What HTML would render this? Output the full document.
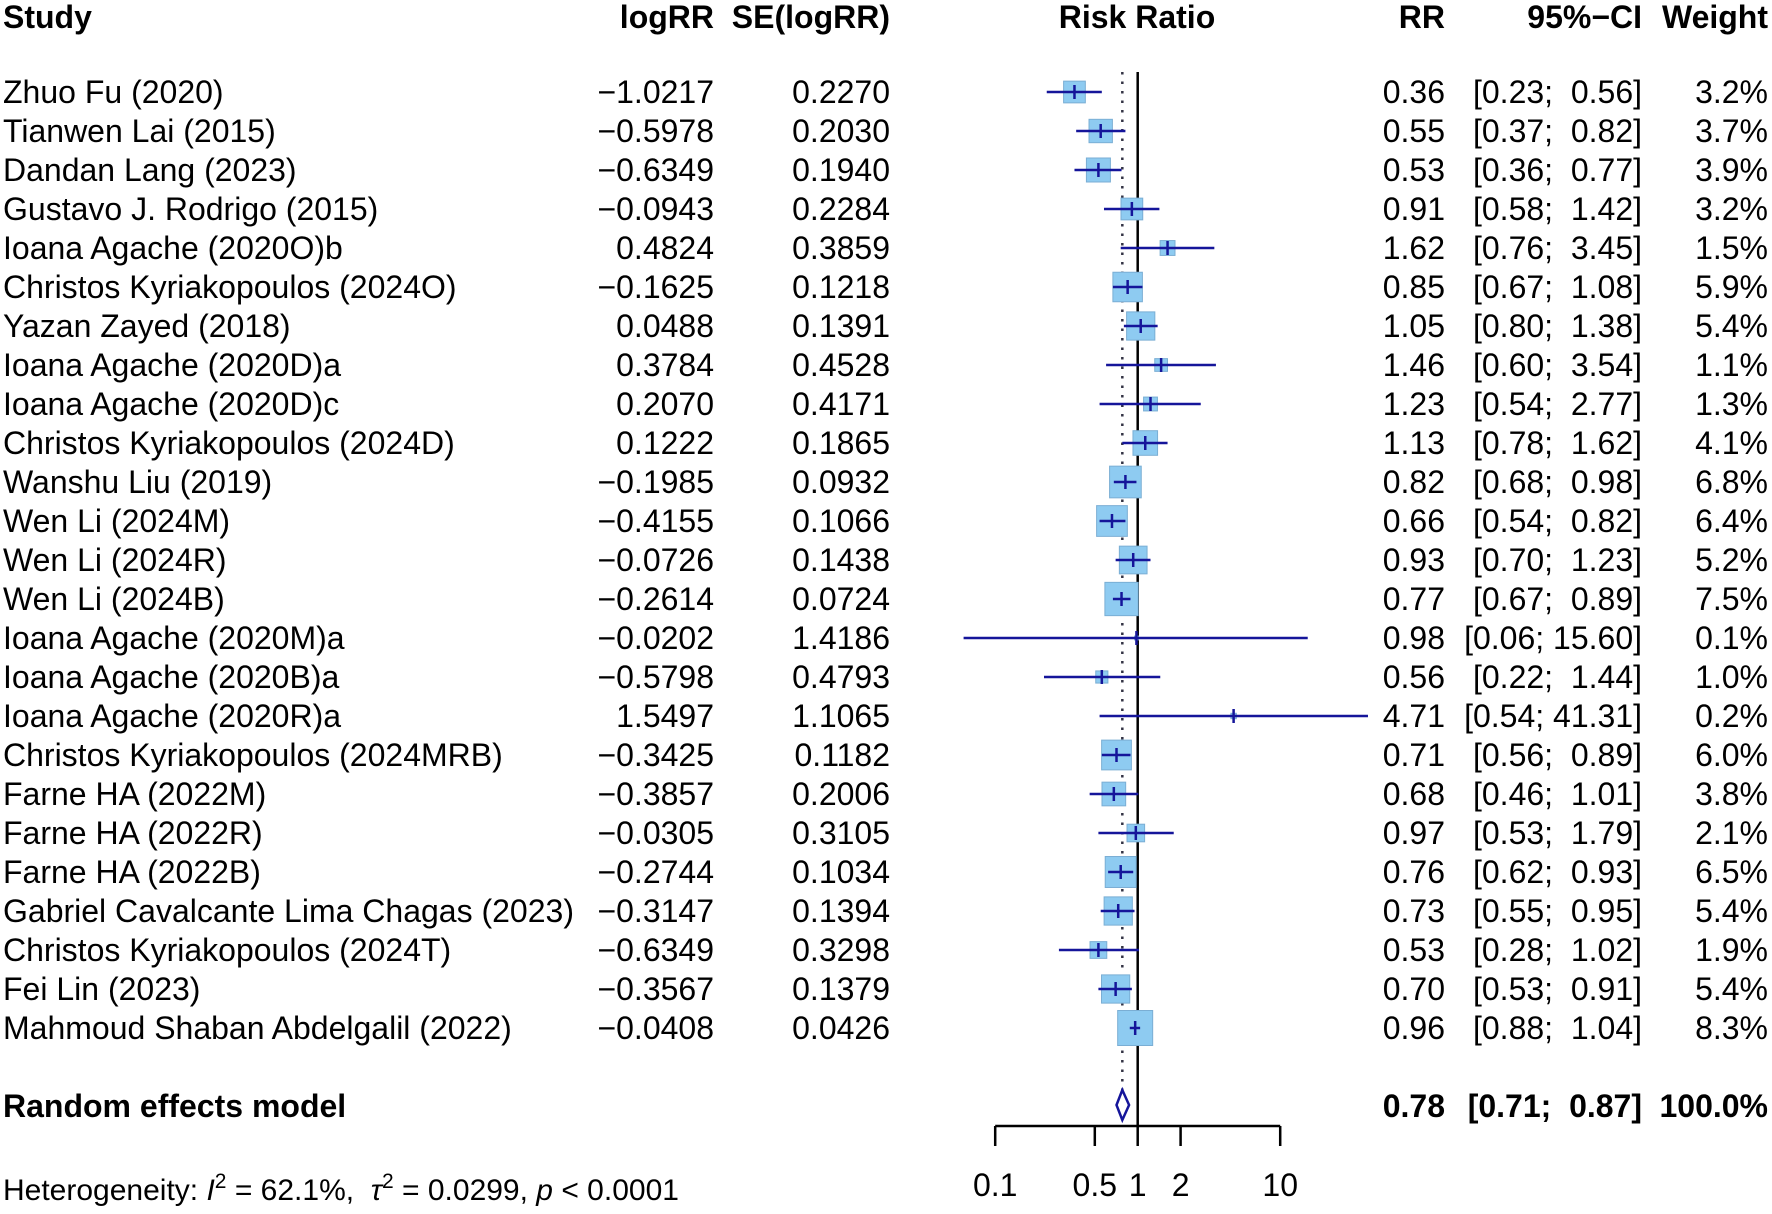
<!DOCTYPE html>
<html><head><meta charset="utf-8"><style>
body{margin:0;background:#fff}
svg text{font-family:"Liberation Sans",Arial,sans-serif;font-size:32px;fill:#000;white-space:pre}
</style></head><body>
<svg id="plot" width="1772" height="1209" viewBox="0 0 1772 1209" xmlns="http://www.w3.org/2000/svg">
<g id="hdr" font-weight="bold">
<text x="3" y="28" font-weight="bold">Study</text>
<text x="714" y="28" text-anchor="end" font-weight="bold">logRR</text>
<text x="890" y="28" text-anchor="end" font-weight="bold">SE(logRR)</text>
<text x="1137" y="28" text-anchor="middle" font-weight="bold">Risk Ratio</text>
<text x="1445" y="28" text-anchor="end" font-weight="bold">RR</text>
<text x="1642" y="28" text-anchor="end" font-weight="bold">95%−CI</text>
<text x="1768" y="28" text-anchor="end" font-weight="bold">Weight</text>
</g>
<g id="marks"></g>
<g id="rows"></g>
<g id="axis"></g>
<text x="3" y="1117" font-weight="bold">Random effects model</text>
<text x="1445" y="1117" text-anchor="end" font-weight="bold">0.78</text>
<text x="1642" y="1117" text-anchor="end" font-weight="bold">[0.71;  0.87]</text>
<text x="1768" y="1117" text-anchor="end" font-weight="bold">100.0%</text>
<text x="3" y="1200" style="font-size:30px">Heterogeneity: <tspan font-style="italic">I</tspan><tspan dy="-12" font-size="21">2</tspan><tspan dy="12"> = 62.1%,  </tspan><tspan font-style="italic">τ</tspan><tspan dy="-12" font-size="21">2</tspan><tspan dy="12"> = 0.0299, </tspan><tspan font-style="italic">p</tspan> &lt; 0.0001</text>
</svg>
<script>
const studies=["Zhuo Fu (2020)","Tianwen Lai (2015)","Dandan Lang (2023)","Gustavo J. Rodrigo (2015)","Ioana Agache (2020O)b","Christos Kyriakopoulos (2024O)","Yazan Zayed (2018)","Ioana Agache (2020D)a","Ioana Agache (2020D)c","Christos Kyriakopoulos (2024D)","Wanshu Liu (2019)","Wen Li (2024M)","Wen Li (2024R)","Wen Li (2024B)","Ioana Agache (2020M)a","Ioana Agache (2020B)a","Ioana Agache (2020R)a","Christos Kyriakopoulos (2024MRB)","Farne HA (2022M)","Farne HA (2022R)","Farne HA (2022B)","Gabriel Cavalcante Lima Chagas (2023)","Christos Kyriakopoulos (2024T)","Fei Lin (2023)","Mahmoud Shaban Abdelgalil (2022)"];
const logRR=["−1.0217","−0.5978","−0.6349","−0.0943","0.4824","−0.1625","0.0488","0.3784","0.2070","0.1222","−0.1985","−0.4155","−0.0726","−0.2614","−0.0202","−0.5798","1.5497","−0.3425","−0.3857","−0.0305","−0.2744","−0.3147","−0.6349","−0.3567","−0.0408"];
const seLogRR=["0.2270","0.2030","0.1940","0.2284","0.3859","0.1218","0.1391","0.4528","0.4171","0.1865","0.0932","0.1066","0.1438","0.0724","1.4186","0.4793","1.1065","0.1182","0.2006","0.3105","0.1034","0.1394","0.3298","0.1379","0.0426"];
const rr=[0.36,0.55,0.53,0.91,1.62,0.85,1.05,1.46,1.23,1.13,0.82,0.66,0.93,0.77,0.98,0.56,4.71,0.71,0.68,0.97,0.76,0.73,0.53,0.70,0.96];
const ciLow=[0.23,0.37,0.36,0.58,0.76,0.67,0.80,0.60,0.54,0.78,0.68,0.54,0.70,0.67,0.06,0.22,0.54,0.56,0.46,0.53,0.62,0.55,0.28,0.53,0.88];
const ciHigh=[0.56,0.82,0.77,1.42,3.45,1.08,1.38,3.54,2.77,1.62,0.98,0.82,1.23,0.89,15.60,1.44,41.31,0.89,1.01,1.79,0.93,0.95,1.02,0.91,1.04];
const weights=[3.2,3.7,3.9,3.2,1.5,5.9,5.4,1.1,1.3,4.1,6.8,6.4,5.2,7.5,0.1,1.0,0.2,6.0,3.8,2.1,6.5,5.4,1.9,5.4,8.3];
const pooled=[0.78,0.71,0.87];
const ticks=[0.1,0.5,1,2,10];
const tickLabels=["0.1","0.5","1","2","10"];

const NS="http://www.w3.org/2000/svg";
const x=v=>1137.7+142.5*Math.log10(v);
const y=i=>92+39*i;
const fmt=v=>v.toFixed(2);
const ciStr=(lo,hi)=>{const h=fmt(hi);return '['+fmt(lo)+';'+(h.length<5?'  ':' ')+h+']';};
function mk(tag,attrs,parent){const e=document.createElementNS(NS,tag);for(const k in attrs)e.setAttribute(k,attrs[k]);parent.appendChild(e);return e;}
const marks=document.getElementById('marks'),rows=document.getElementById('rows'),axis=document.getElementById('axis');

let l=mk('line',{x1:x(pooled[0]),x2:x(pooled[0]),y1:72,y2:1090,stroke:'#334',"stroke-width":2.5,"stroke-dasharray":"2.5 7"},marks);


l=mk('line',{x1:x(1),x2:x(1),y1:72,y2:1126,stroke:'#000',"stroke-width":2.5},marks);



studies.forEach((s,i)=>{
  const cy=y(i),side=35*Math.sqrt(weights[i]/8.3);
  const b=mk('rect',{x:x(rr[i])-side/2,y:cy-side/2,width:side,height:side,fill:'#8ecbf1',stroke:'#7aaed4',"stroke-width":1},marks);
  
  
  const c=mk('line',{x1:x(ciLow[i]),x2:x(ciHigh[i]),y1:cy,y2:cy,stroke:'#15159a',"stroke-width":2.5},marks);
  
  
  const t=mk('line',{x1:x(rr[i]),x2:x(rr[i]),y1:cy-7,y2:cy+7,stroke:'#15159a',"stroke-width":2.5},marks);
  
  
  const by=cy+11;
  const cols=[[3,'start',s,'study-name'],[714,'end',logRR[i],'study-logrr'],[890,'end',seLogRR[i],'study-se'],[1445,'end',fmt(rr[i]),'study-rr'],[1642,'end',ciStr(ciLow[i],ciHigh[i]),'study-ci'],[1768,'end',weights[i].toFixed(1)+'%','study-weight']];
  cols.forEach(cc=>{const tx=mk('text',{x:cc[0],y:by,"text-anchor":cc[1]},rows);tx.textContent=cc[2];
    
    });
});

const dy=1105,dh=15;
const d=mk('polygon',{points:`${x(pooled[1])},${dy} ${x(pooled[0])},${dy-dh} ${x(pooled[2])},${dy} ${x(pooled[0])},${dy+dh}`,fill:'#fff',stroke:'#15159a',"stroke-width":2.5},marks);



const ax=mk('line',{x1:x(ticks[0]),x2:x(ticks[ticks.length-1]),y1:1126,y2:1126,stroke:'#000',"stroke-width":2.5},axis);


ticks.forEach((t,i)=>{
  const tk=mk('line',{x1:x(t),x2:x(t),y1:1126,y2:1146,stroke:'#000',"stroke-width":2.5},axis);
  
  
  const tl=mk('text',{x:x(t),y:1196,"text-anchor":"middle"},axis);tl.textContent=tickLabels[i];
  
  
});
</script>
</body></html>
